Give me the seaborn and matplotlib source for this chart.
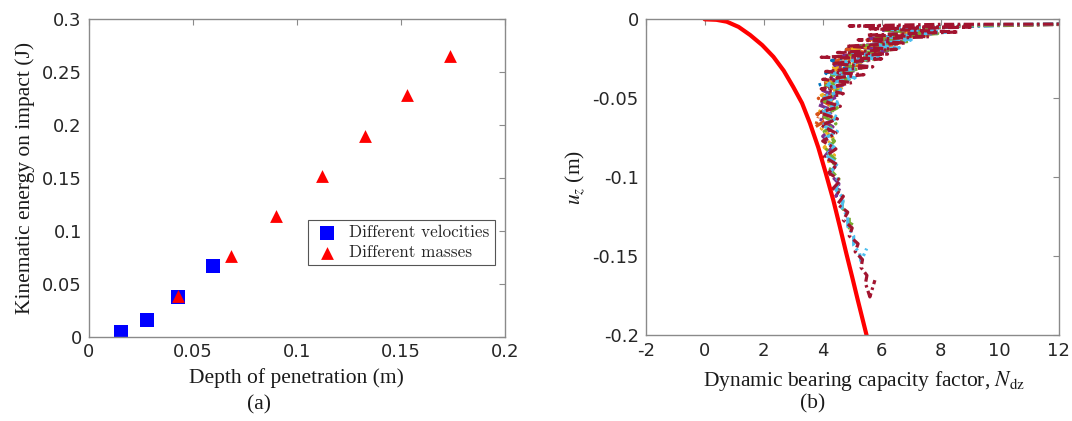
import matplotlib
matplotlib.use("Agg")
import matplotlib.pyplot as plt
import numpy as np
import pandas as pd
import seaborn as sns

# ---- (a) kinematic energy vs depth of penetration ----
vel_depth = [0.0153, 0.0282, 0.0429, 0.0596]
vel_energy = [0.0041, 0.0159, 0.0372, 0.0668]
mass_depth = [0.0429, 0.0685, 0.0900, 0.1120, 0.1326, 0.1530, 0.1737]
mass_energy = [0.0380, 0.0763, 0.1139, 0.1520, 0.1900, 0.2280, 0.2656]

a_xticks = [0, 0.05, 0.1, 0.15, 0.2]
a_xticklabels = ["0", "0.05", "0.1", "0.15", "0.2"]
a_yticks = [0, 0.05, 0.1, 0.15, 0.2, 0.25, 0.3]
a_yticklabels = ["0", "0.05", "0.1", "0.15", "0.2", "0.25", "0.3"]

# ---- (b) dynamic bearing capacity factor vs displacement ----
theory_n = [0, 0.4, 0.75, 1.15, 1.54, 1.95, 2.33, 2.68, 3.0, 3.3, 3.57,
            3.85, 4.1, 4.36, 4.58, 4.80, 5.0, 5.19, 5.49]
theory_uz = [0, -0.0003, -0.0015, -0.0048, -0.0099, -0.0163, -0.0237,
             -0.0325, -0.0427, -0.053, -0.0658, -0.081, -0.097, -0.1144,
             -0.131, -0.148, -0.163, -0.1776, -0.2]

blue_n = [12.5, 8.7, 6.5, 7.8, 5.6, 6.5, 4.8, 5.6, 4.3, 4.9, 4.1, 4.4, 3.8]
blue_uz = [-0.003, -0.0045, -0.007, -0.009, -0.012, -0.015, -0.019, -0.022,
           -0.026, -0.030, -0.034, -0.038, -0.042]

orange_n = [12.5, 8.8, 6.2, 7.5, 5.5, 6.5, 4.8, 5.8, 4.4, 5.2, 4.2, 4.8, 4.0,
            4.5, 3.85, 4.3, 3.8, 4.1, 3.75, 3.85]
orange_uz = [-0.0032, -0.004, -0.007, -0.010, -0.013, -0.016, -0.019, -0.022,
             -0.026, -0.029, -0.033, -0.037, -0.041, -0.045, -0.050, -0.055,
             -0.060, -0.064, -0.068, -0.062]

yellow_n = [12.5, 8.5, 6.3, 7.6, 5.7, 6.6, 4.9, 6.0, 4.6, 5.4, 4.3, 5.0, 4.1,
            4.7, 3.95, 4.5, 3.9, 4.4, 3.95, 4.35, 4.05, 4.4, 4.2, 4.35]
yellow_uz = [-0.003, -0.004, -0.007, -0.010, -0.013, -0.015, -0.018, -0.021,
             -0.024, -0.027, -0.031, -0.035, -0.039, -0.043, -0.048, -0.053,
             -0.058, -0.063, -0.069, -0.075, -0.081, -0.086, -0.090, -0.085]

purple_n = [12.5, 8.4, 6.0, 7.7, 5.6, 6.7, 5.1, 6.2, 4.7, 5.6, 4.4, 5.1, 4.2,
            4.8, 4.0, 4.5, 3.85, 4.4, 3.9, 4.35, 4.0, 4.35, 4.1, 4.45, 4.25,
            4.55, 4.45, 4.6]
purple_uz = [-0.003, -0.004, -0.007, -0.009, -0.012, -0.014, -0.017, -0.020,
             -0.023, -0.026, -0.029, -0.033, -0.037, -0.041, -0.045, -0.049,
             -0.054, -0.058, -0.063, -0.068, -0.074, -0.080, -0.086, -0.092,
             -0.098, -0.104, -0.112, -0.106]

green_n = [12.5, 8.6, 6.1, 7.9, 5.8, 6.9, 5.3, 6.4, 4.9, 5.8, 4.5, 5.3, 4.3,
           4.9, 4.1, 4.6, 4.0, 4.5, 4.0, 4.45, 4.05, 4.4, 4.1, 4.45, 4.25,
           4.55, 4.45, 4.7, 4.65, 4.9, 4.9, 5.05]
green_uz = [-0.003, -0.004, -0.007, -0.009, -0.012, -0.014, -0.017, -0.019,
            -0.022, -0.025, -0.028, -0.031, -0.035, -0.038, -0.042, -0.046,
            -0.051, -0.056, -0.061, -0.066, -0.071, -0.077, -0.083, -0.089,
            -0.095, -0.101, -0.107, -0.113, -0.119, -0.125, -0.132, -0.127]

cyan_n = [12.5, 8.7, 6.0, 8.3, 6.2, 7.0, 5.6, 6.6, 5.0, 6.0, 4.6, 5.5, 4.3,
          5.1, 4.1, 4.7, 4.0, 4.6, 3.95, 4.55, 3.95, 4.5, 4.0, 4.4, 4.1, 4.5,
          4.25, 4.55, 4.45, 4.7, 4.65, 4.85, 4.85, 5.05, 5.05, 5.25, 5.3, 5.49]
cyan_uz = [-0.0028, -0.0035, -0.006, -0.008, -0.011, -0.013, -0.016, -0.018,
           -0.021, -0.024, -0.027, -0.030, -0.034, -0.037, -0.041, -0.045,
           -0.049, -0.053, -0.058, -0.062, -0.067, -0.071, -0.076, -0.081,
           -0.086, -0.091, -0.097, -0.102, -0.108, -0.113, -0.119, -0.125,
           -0.131, -0.137, -0.143, -0.148, -0.153, -0.145]

darkred_n = [12.5, 8.0, 4.9, 9.0, 5.6, 8.6, 5.5, 7.6, 5.2, 6.8, 4.8, 6.5, 4.5,
             6.2, 3.95, 6.0, 4.3, 5.7, 4.1, 5.4, 4.0, 5.0, 3.95, 4.7, 3.9, 4.6,
             3.9, 4.5, 3.95, 4.45, 4.0, 4.45, 4.05, 4.5, 4.2, 4.6, 4.35, 4.7,
             4.5, 4.85, 4.7, 5.0, 4.9, 5.2, 5.1, 5.35, 5.3, 5.5, 5.45, 5.6, 5.77]
darkred_uz = [-0.003, -0.0032, -0.0042, -0.005, -0.006, -0.008, -0.010, -0.011,
              -0.013, -0.015, -0.017, -0.019, -0.021, -0.022, -0.024, -0.025,
              -0.028, -0.030, -0.033, -0.035, -0.038, -0.040, -0.044, -0.047,
              -0.051, -0.055, -0.059, -0.063, -0.067, -0.072, -0.077, -0.082,
              -0.087, -0.092, -0.097, -0.102, -0.107, -0.112, -0.117, -0.122,
              -0.127, -0.132, -0.137, -0.142, -0.147, -0.152, -0.157, -0.162,
              -0.167, -0.1756, -0.165]

sim_series = [
    (blue_n, blue_uz, "#0072BD"),
    (orange_n, orange_uz, "#D95319"),
    (yellow_n, yellow_uz, "#EDB120"),
    (purple_n, purple_uz, "#7E2F8E"),
    (green_n, green_uz, "#77AC30"),
    (cyan_n, cyan_uz, "#4DBEEE"),
    (darkred_n, darkred_uz, "#A2142F"),
]

b_xticks = [-2, 0, 2, 4, 6, 8, 10, 12]
b_xticklabels = ["-2", "0", "2", "4", "6", "8", "10", "12"]
b_yticks = [0, -0.05, -0.1, -0.15, -0.2]
b_yticklabels = ["0", "-0.05", "-0.1", "-0.15", "-0.2"]

sns.set_theme(style="white")
plt.rcParams["font.family"] = ["DejaVu Sans"]
plt.rcParams["mathtext.fontset"] = "stix"

SPINE = "#8a8a8a"
TICKC = "#262626"
TXT = "#1a1a1a"
SERIF = ["Liberation Serif", "DejaVu Serif"]
LABEL_FS = 15.5

fig = plt.figure(figsize=(10.72, 4.21), dpi=100)
ax1 = fig.add_axes([0.0828, 0.2007, 0.388, 0.7537])
ax2 = fig.add_axes([0.6023, 0.2031, 0.3853, 0.751])

# panel (a)
vel = pd.DataFrame({"depth": vel_depth, "energy": vel_energy})
mass = pd.DataFrame({"depth": mass_depth, "energy": mass_energy})
sns.scatterplot(data=vel, x="depth", y="energy", marker="s", color="#0000ff",
                s=110, linewidth=0, ax=ax1, label="Different velocities")
sns.scatterplot(data=mass, x="depth", y="energy", marker="^", color="#ff0000",
                s=85, linewidth=0, ax=ax1, label="Different masses")
ax1.set_xlim(0, 0.2)
ax1.set_ylim(0, 0.3)
ax1.set_xticks(a_xticks, a_xticklabels)
ax1.set_yticks(a_yticks, a_yticklabels)
ax1.set_xlabel("Depth of penetration (m)", family=SERIF, fontsize=LABEL_FS,
               labelpad=5, color=TXT)
ax1.set_ylabel("Kinematic energy on impact (J)", family=SERIF,
               fontsize=LABEL_FS, labelpad=5, color=TXT)
leg = ax1.legend(loc="upper right", bbox_to_anchor=(0.976, 0.367),
                 prop={"family": "cmr10", "size": 12.3}, frameon=True,
                 fancybox=False, edgecolor="#555555", framealpha=1,
                 borderpad=0.3, labelspacing=0.25, handletextpad=0.5,
                 borderaxespad=0, markerscale=1.0, handlelength=1.6)
leg.get_frame().set_linewidth(0.8)
ax1.text(0.41, -0.215, "(a)", transform=ax1.transAxes, ha="center",
         va="center", family=SERIF, fontsize=LABEL_FS, color=TXT)

# panel (b)
for n_vals, uz_vals, col in sim_series:
    sns.lineplot(x=n_vals, y=uz_vals, sort=False, estimator=None, color=col,
                 linewidth=2.3, linestyle=(0, (3.2, 1.1, 0.8, 1.1)), ax=ax2)
sns.lineplot(x=theory_n, y=theory_uz, sort=False, estimator=None,
             color="#ff0000", linewidth=3.0, ax=ax2)
ax2.set_xlim(-2, 12)
ax2.set_ylim(-0.2, 0)
ax2.set_xticks(b_xticks, b_xticklabels)
ax2.set_yticks(b_yticks, b_yticklabels)
ax2.set_xlabel(r"Dynamic bearing capacity factor, $N_{\mathrm{dz}}$",
               family=SERIF, fontsize=LABEL_FS, color=TXT)
ax2.xaxis.set_label_coords(0.529, -0.107)
ax2.set_ylabel(r"$u_z$ (m)", family=SERIF, fontsize=LABEL_FS, labelpad=4,
               color=TXT)
ax2.text(0.405, -0.215, "(b)", transform=ax2.transAxes, ha="center",
         va="center", family=SERIF, fontsize=LABEL_FS, color=TXT)

for ax in (ax1, ax2):
    for sp in ax.spines.values():
        sp.set_visible(True)
        sp.set_color(SPINE)
        sp.set_linewidth(1.0)
    ax.tick_params(direction="in", length=4, width=0.8, color=SPINE,
                   labelsize=13, labelcolor=TICKC, top=True, right=True,
                   pad=5)
    ax.set_facecolor("white")

fig.savefig("out.png", dpi=100, facecolor="white")
